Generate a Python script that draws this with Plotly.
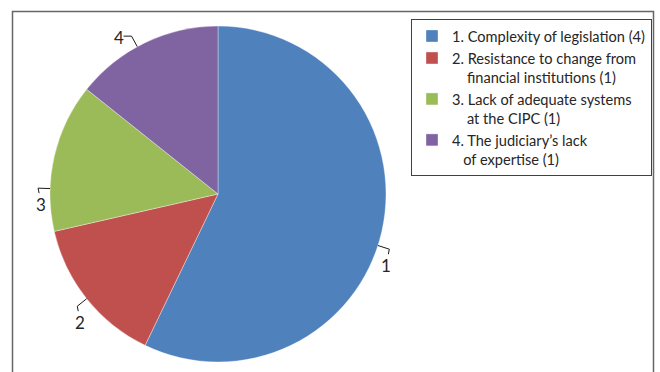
import math
import plotly.graph_objects as go

# ---- data ----
categories = [
    "1. Complexity of legislation (4)",
    "2. Resistance to change from<br>\u00a0\u00a0\u00a0\u00a0financial institutions (1)",
    "3. Lack of adequate systems<br>\u00a0\u00a0\u00a0\u00a0at the CIPC (1)",
    "4. The judiciary\u2019s lack<br>\u00a0\u00a0\u00a0of expertise (1)",
]
values = [4, 1, 1, 1]
slice_labels = ["1", "2", "3", "4"]
colors = ["#4F81BD", "#C0504D", "#9BBB59", "#8064A2"]

W, H = 660, 372
CX, CY, R = 218, 194, 168  # pie centre / radius in px (layout)

fig = go.Figure()
fig.add_trace(go.Pie(
    labels=categories,
    values=values,
    sort=False,
    direction="clockwise",
    rotation=0,
    textinfo="none",
    hoverinfo="skip",
    marker=dict(colors=colors, line=dict(color="rgba(255,255,255,0.6)", width=0.6)),
    domain=dict(x=[(CX - R) / W, (CX + R) / W], y=[(H - CY - R) / H, (H - CY + R) / H]),
))


def P(x, y):
    return f"{x / W},{1 - y / H}"


# leader lines + labels computed from slice angles
label_nudge = [5, 0, -11, -3]  # placement tweak (deg), style only
total = sum(values)
cum = 0
shapes = []
annotations = []
for v, lab, nudge in zip(values, slice_labels, label_nudge):
    mid = (cum + v / 2) / total * 360 + nudge
    cum += v
    t = math.radians(mid)
    sx, sy = math.sin(t), -math.cos(t)
    sgn = 1 if sx > 0 else -1
    ax_, ay_ = CX + R * sx, CY + R * sy
    bx, by = CX + (R + 12) * sx, CY + (R + 12) * sy
    if sy < -0.5:
        cx_, cy_ = bx + 8 * sgn, by
        lx, ly = cx_ + 5 * sgn, cy_ + 1
    else:
        cx_, cy_ = bx - 1 * sgn, by + 5
        lx, ly = cx_ - 2 * sgn, cy_ + 11
    path = f"M {P(ax_, ay_)} L {P(bx, by)} L {P(cx_, cy_)}"
    shapes.append(dict(type="path", xref="paper", yref="paper", path=path,
                       line=dict(color="#1a1a1a", width=1)))
    annotations.append(dict(x=lx / W, y=1 - ly / H, xref="paper", yref="paper",
                            text=lab, showarrow=False, xanchor="center", yanchor="middle",
                            font=dict(family="Lato, sans-serif", size=17, color="#262626")))

# outer chart border
shapes.append(dict(type="rect", xref="paper", yref="paper",
                   x0=12.5 / W, x1=653.5 / W, y0=-0.05, y1=1 - 11.5 / H,
                   line=dict(color="#666666", width=1.5)))

fig.update_layout(
    width=W, height=H,
    margin=dict(l=0, r=0, t=0, b=0),
    paper_bgcolor="white",
    plot_bgcolor="white",
    shapes=shapes,
    annotations=annotations,
    showlegend=True,
    legend=dict(
        x=411 / W, y=1 - 19 / H, xanchor="left", yanchor="top",
        bordercolor="#404040", borderwidth=1, bgcolor="white",
        font=dict(family="Lato, sans-serif", size=14.6, color="#262626"),
        valign="top",
        itemclick=False, itemdoubleclick=False,
    ),
)

fig.write_html("out.html")
